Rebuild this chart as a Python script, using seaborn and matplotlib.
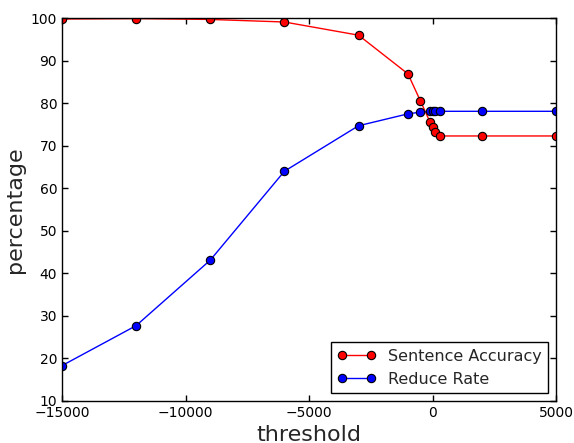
import pandas as pd
import matplotlib
matplotlib.use('Agg')
import matplotlib.pyplot as plt
import seaborn as sns

threshold = [-15000, -12000, -9000, -6000, -3000, -1000, -500, -100, 0, 100, 300, 2000, 5000]
sentence_accuracy = [99.8, 99.9, 99.7, 99.1, 96.0, 86.9, 80.6, 75.5, 74.5, 73.2, 72.3, 72.3, 72.3]
reduce_rate = [18.3, 27.7, 43.1, 64.0, 74.7, 77.5, 77.9, 78.1, 78.1, 78.1, 78.1, 78.1, 78.1]

sns.set_style('ticks')
plt.rcParams['font.family'] = ['DejaVu Sans']
plt.rcParams['xtick.direction'] = 'in'
plt.rcParams['ytick.direction'] = 'in'
plt.rcParams['xtick.top'] = True
plt.rcParams['ytick.right'] = True

dados = pd.DataFrame({'threshold': threshold,
                      'Sentence Accuracy': sentence_accuracy,
                      'Reduce Rate': reduce_rate})

fig = plt.figure(figsize=(5.74, 4.43), dpi=100)
ax = fig.add_axes([0.108, 0.095, 0.861, 0.864])

sns.lineplot(data=dados, x='threshold', y='Sentence Accuracy', color='red', marker='o',
             markersize=6, markeredgecolor='black', markeredgewidth=0.8, linewidth=1,
             label='Sentence Accuracy', ax=ax)
sns.lineplot(data=dados, x='threshold', y='Reduce Rate', color='blue', marker='o',
             markersize=6, markeredgecolor='black', markeredgewidth=0.8, linewidth=1,
             label='Reduce Rate', ax=ax)

ax.set_xlim(-15000, 5000)
ax.set_ylim(10, 100)
ax.set_xticks([-15000, -10000, -5000, 0, 5000])
ax.set_xticklabels(['\u221215000', '\u221210000', '\u22125000', '0', '5000'])
ax.set_yticks(range(10, 101, 10))
ax.tick_params(labelsize=10, length=4, width=1, colors='black')
for s in ax.spines.values():
    s.set_color('black')
    s.set_linewidth(1)
ax.set_xlabel('threshold', fontsize=16)
ax.set_ylabel('percentage', fontsize=16)
ax.legend(loc='lower right', fontsize=11.5, numpoints=2, fancybox=False,
          edgecolor='black', framealpha=1, borderaxespad=0.5, handlelength=2.4)
ax.get_legend().get_frame().set_linewidth(1)

fig.savefig('out.png', dpi=100)
